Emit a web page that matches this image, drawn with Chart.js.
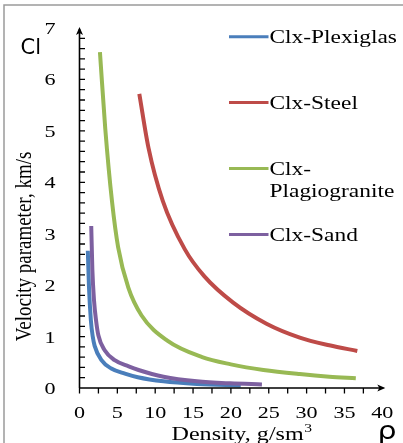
<!DOCTYPE html>
<html>
<head>
<meta charset="utf-8">
<script src="https://cdn.jsdelivr.net/npm/chart.js@4.4.0/dist/chart.umd.min.js"></script>
<style>
  html, body { margin: 0; padding: 0; background: #fff; }
  canvas { display: block; }
</style>
</head>
<body>
<canvas id="chart" width="403" height="443"></canvas>
<script>
// 図から読み取った曲線データ（ρ: 密度, Cl: 速度パラメータ）
const plexiglasRho = [1.1, 1.25, 1.5, 1.75, 2.0, 2.9, 4.2, 6.0, 7.7, 11.1, 15.5, 21.3];
const plexiglasCl  = [2.67, 1.97, 1.32, 1.0, 0.82, 0.54, 0.38, 0.28, 0.21, 0.13, 0.08, 0.05];

const steelRho = [7.9, 9.1, 11.0, 13.9, 16.5, 20.3, 24.7, 29.1, 33.0, 36.7];
const steelCl  = [5.72, 4.68, 3.64, 2.7, 2.17, 1.66, 1.25, 0.98, 0.83, 0.72];

const graniteRho = [2.7, 3.4, 4.3, 5.1, 6.45, 8.2, 11.6, 16.2, 20.0, 24.3, 29.1, 33.0, 36.5];
const graniteCl  = [6.53, 5.05, 3.62, 2.74, 1.95, 1.41, 0.92, 0.6, 0.46, 0.35, 0.27, 0.22, 0.19];

const sandRho = [1.55, 1.7, 1.92, 2.2, 2.5, 3.3, 4.65, 6.5, 7.8, 11.1, 15.5, 19.9, 24.1];
const sandCl  = [3.15, 2.3, 1.7, 1.3, 1.02, 0.74, 0.54, 0.42, 0.35, 0.22, 0.13, 0.09, 0.07];

const seriesNames = ['Clx-Plexiglas', 'Clx-Steel', 'Clx-Plagiogranite', 'Clx-Sand'];
const legendLines = [['Clx-Plexiglas'], ['Clx-Steel'], ['Clx-', 'Plagiogranite'], ['Clx-Sand']];
const seriesColors = ['#4a7ebb', '#be4b48', '#98b954', '#7d60a0'];

const xTicks = [0, 5, 10, 15, 20, 25, 30, 35, 40];
const yTicks = [0, 1, 2, 3, 4, 5, 6, 7];
const xTitle = 'Density, g/sm';
const xTitleSup = '3';
const yTitle = 'Velocity parameter, km/s';

const serif = '"Liberation Serif", "Times New Roman", serif';

const toPoints = (xs, ys) => xs.map((x, i) => ({ x: x, y: ys[i] }));

// 横に引き伸ばした文字を描く
function wideText(ctx, text, x, y, sx, align) {
    ctx.save();
    ctx.translate(x, y);
    ctx.scale(sx, 1);
    ctx.textAlign = align || 'left';
    ctx.fillText(text, 0, 0);
    ctx.restore();
}

// 軸・目盛・凡例などの描画
const axesPlugin = {
    id: 'axesPlugin',
    beforeDraw(chart) {
        const ctx = chart.ctx;
        ctx.save();
        ctx.strokeStyle = '#9a9a9a';
        ctx.lineWidth = 1.5;
        ctx.beginPath();
        ctx.moveTo(4, 443);
        ctx.lineTo(4, 5);
        ctx.lineTo(403, 5);
        ctx.stroke();
        ctx.restore();
    },
    afterDatasetsDraw(chart) {
        const ctx = chart.ctx;
        const xs = chart.scales.x;
        const ys = chart.scales.y;
        const x0 = xs.getPixelForValue(0);
        const y0 = ys.getPixelForValue(0);
        const xEnd = xs.getPixelForValue(40) + 3;
        const yEnd = ys.getPixelForValue(7) - 1;

        ctx.save();
        ctx.strokeStyle = '#000';
        ctx.fillStyle = '#000';
        ctx.lineWidth = 1.6;

        // 軸線
        ctx.beginPath();
        ctx.moveTo(x0, y0);
        ctx.lineTo(xEnd - 2, y0);
        ctx.moveTo(x0, y0);
        ctx.lineTo(x0, yEnd + 2);
        ctx.stroke();

        // 矢印
        ctx.beginPath();
        ctx.moveTo(xEnd, y0);
        ctx.lineTo(xEnd - 8, y0 - 3.5);
        ctx.lineTo(xEnd - 6, y0);
        ctx.lineTo(xEnd - 8, y0 + 3.5);
        ctx.closePath();
        ctx.fill();
        ctx.beginPath();
        ctx.moveTo(x0, yEnd);
        ctx.lineTo(x0 - 3.5, yEnd + 8);
        ctx.lineTo(x0, yEnd + 6);
        ctx.lineTo(x0 + 3.5, yEnd + 8);
        ctx.closePath();
        ctx.fill();

        // 目盛
        ctx.lineWidth = 1.3;
        ctx.beginPath();
        for (let i = 1; i <= 34; i++) {
            const py = ys.getPixelForValue(i * 0.2);
            ctx.moveTo(x0, py);
            ctx.lineTo(x0 + 5.5, py);
        }
        for (let i = 0; i <= 15; i++) {
            const px = xs.getPixelForValue(i * 2.5);
            ctx.moveTo(px, y0);
            ctx.lineTo(px, y0 + 5.5);
        }
        ctx.stroke();

        // 目盛ラベル
        ctx.font = '17px ' + serif;
        ctx.textBaseline = 'alphabetic';
        xTicks.forEach(v => {
            wideText(ctx, String(v), xs.getPixelForValue(v), 417.5, 1.3, 'center');
        });
        yTicks.forEach(v => {
            wideText(ctx, String(v), 55.5, ys.getPixelForValue(v) + 6, 1.3, 'right');
        });

        // X軸タイトル
        ctx.font = '18.5px ' + serif;
        const mainW = ctx.measureText(xTitle).width * 1.3;
        ctx.font = '12px ' + serif;
        const supW = ctx.measureText(xTitleSup).width * 1.3;
        const left = 241.5 - (mainW + supW) / 2;
        ctx.font = '18.5px ' + serif;
        wideText(ctx, xTitle, left, 440, 1.3, 'left');
        ctx.font = '12px ' + serif;
        wideText(ctx, xTitleSup, left + mainW + 0.5, 432, 1.3, 'left');

        // Y軸タイトル
        ctx.save();
        ctx.translate(31, 246.5);
        ctx.rotate(-Math.PI / 2);
        ctx.scale(1, 1.2);
        ctx.font = '19px ' + serif;
        ctx.textAlign = 'center';
        ctx.fillText(yTitle, 0, 0);
        ctx.restore();

        // 記号
        ctx.font = '21px "DejaVu Sans", sans-serif';
        ctx.textAlign = 'left';
        ctx.fillText('Cl', 20.5, 53.5);
        ctx.font = '24px "DejaVu Sans", sans-serif';
        wideText(ctx, 'ρ', 387, 439, 1.25, 'center');

        // 凡例
        chart.data.datasets.forEach((ds, i) => {
            const ly = 36.7 + i * 65.9;
            ctx.strokeStyle = ds.borderColor;
            ctx.lineWidth = 3;
            ctx.beginPath();
            ctx.moveTo(229, ly);
            ctx.lineTo(268.5, ly);
            ctx.stroke();
            ctx.fillStyle = '#000';
            ctx.font = '18px ' + serif;
            legendLines[i].forEach((line, j) => {
                wideText(ctx, line, 269.5, ly + 6.3 + j * 22, 1.3, 'left');
            });
        });
        ctx.restore();
    }
};

const curves = [
    toPoints(plexiglasRho, plexiglasCl),
    toPoints(steelRho, steelCl),
    toPoints(graniteRho, graniteCl),
    toPoints(sandRho, sandCl)
];

const chart = new Chart(document.getElementById('chart'), {
    type: 'line',
    data: {
        datasets: curves.map((pts, i) => ({
            label: seriesNames[i],
            data: pts,
            borderColor: seriesColors[i],
            backgroundColor: seriesColors[i],
            borderWidth: 4,
            fill: false,
            order: 3 - i
        }))
    },
    options: {
        responsive: false,
        animation: false,
        layout: {
            padding: { left: 79.5, right: 20.7, top: 28, bottom: 55 }
        },
        elements: {
            point: { radius: 0 },
            line: { cubicInterpolationMode: 'monotone' }
        },
        scales: {
            x: { type: 'linear', min: 0, max: 40, display: false },
            y: { type: 'linear', min: 0, max: 7, display: false }
        },
        plugins: {
            legend: { display: false },
            tooltip: { enabled: false }
        }
    },
    plugins: [axesPlugin]
});
</script>
</body>
</html>
